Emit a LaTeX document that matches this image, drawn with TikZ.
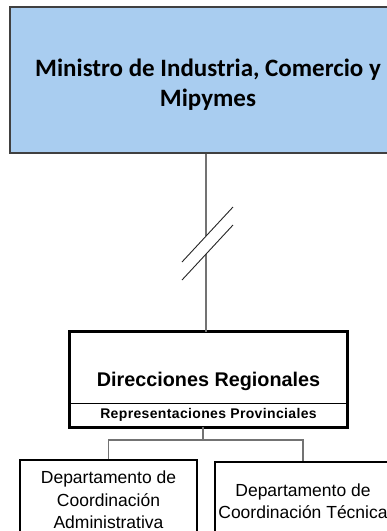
\documentclass[tikz,border=0pt]{standalone}
\usepackage{fontspec}
\setmainfont{Liberation Sans}
\newfontfamily\calibri{Carlito}
\begin{document}
\begin{tikzpicture}[x=1pt,y=-1pt,
  conn/.style={draw=black!55, line width=1.2pt},
  slash/.style={draw=black!85, line width=0.9pt},
  topbox/.style={draw=black!75, line width=1.4pt, fill=blueA, inner sep=0pt},
  toptext/.style={inner sep=0pt, align=center,
    font=\calibri\bfseries\fontsize{25}{30}\selectfont},
  deptbox/.style={draw=black, line width=1.2pt, inner sep=0pt, align=center,
    font=\fontsize{17.5}{22.5}\selectfont},
  plain/.style={inner sep=0pt, align=center}]
\definecolor{blueA}{HTML}{A9CDF0}
\useasboundingbox (0,0) rectangle (387,531);
\clip (0,0) rectangle (387,531);
\fill[white] (0,0) rectangle (387,531);
% top box
\node[topbox, minimum width=396pt, minimum height=146pt] (min) at (208,80) {};
\node[toptext] (minT) at (208,84.5) {Ministro de Industria, Comercio y\\Mipymes};
% direcciones box
\node[plain, minimum width=277pt, minimum height=71pt] (dirA) at (208.5,367.5) {};
\node[plain, minimum width=277pt, minimum height=24pt, font=\bfseries\fontsize{14}{16}\selectfont\addfontfeatures{LetterSpace=2.5}] (dirB) at (208.5,415) {Representaciones Provinciales};
\node[plain, font=\bfseries\fontsize{19.8}{22}\selectfont] (dirT) at (208.5,381) {Direcciones Regionales};
\draw[line width=1.4pt] (dirA.south west) -- (dirA.south east);
\draw[line width=3pt] (dirA.north west) rectangle (dirB.south east);
% break connector
\coordinate (c1) at (206,236);
\coordinate (c2) at (206,254);
\coordinate (s1a) at (182,262);
\coordinate (s1b) at (233,207);
\coordinate (s2a) at (182,280);
\coordinate (s2b) at (233,225);
\draw[conn] (min.south -| c1) -- (c1);
\draw[conn] (c2) -- (dirA.north -| c2);
\draw[slash] (s1a) -- (s1b);
\draw[slash] (s2a) -- (s2b);
% departments
\node[deptbox, minimum width=177pt, minimum height=80pt] (dA) at (108.5,500) {Departamento de\\Coordinación\\Administrativa};
\node[deptbox, minimum width=176pt, minimum height=80pt] (dT) at (303,502) {\\[-11pt]Departamento de\\Coordinación Técnica};
\coordinate (j) at (203,440);
\draw[conn] (dirB.south -| j) -- (j);
\draw[conn] (dA.north) |- (j) -| (dT.north);
\end{tikzpicture}
\end{document}
